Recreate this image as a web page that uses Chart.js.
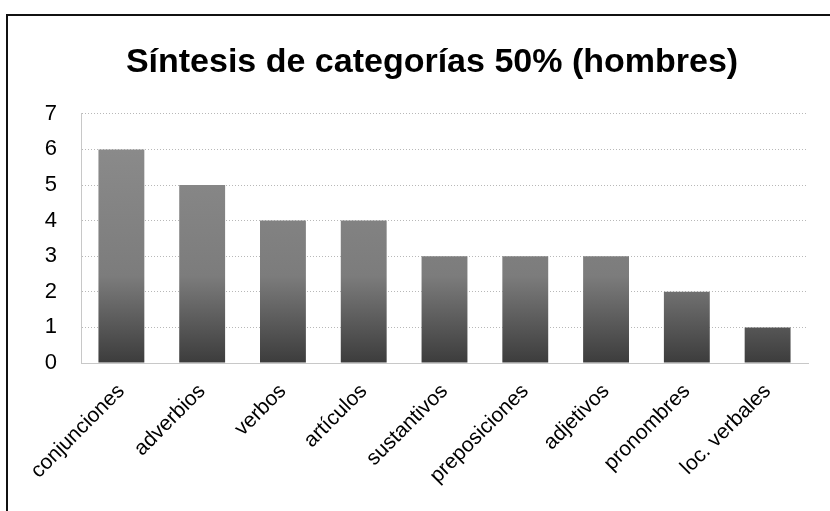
<!DOCTYPE html>
<html>
<head>
<meta charset="utf-8">
<script src="https://cdn.jsdelivr.net/npm/chart.js@4"></script>
<style>
  html, body { margin: 0; padding: 0; background: #fff; overflow: hidden; }
  #frame {
    position: absolute; left: 6px; top: 14px;
    width: 830px; height: 505px;
    border-left: 2px solid #111; border-top: 2px solid #111;
  }
  #wrap { position: absolute; left: 0; top: 0; width: 822px; height: 495px; }
</style>
</head>
<body>
<div id="frame"><div id="wrap"><canvas id="chart"></canvas></div></div>
<script>
// data
const categories = ['conjunciones', 'adverbios', 'verbos', 'artículos', 'sustantivos',
                    'preposiciones', 'adjetivos', 'pronombres', 'loc. verbales'];
const counts = [6, 5, 4, 4, 3, 3, 3, 2, 1];
const yTicks = [0, 1, 2, 3, 4, 5, 6, 7];

const fontFam = "'Liberation Sans', Arial, sans-serif";

// gray bars, darker towards the bottom
function barFill(context) {
    const chart = context.chart;
    const area = chart.chartArea;
    if (!area) return '#888';
    const g = chart.ctx.createLinearGradient(0, area.top, 0, area.bottom);
    g.addColorStop(0, '#8e8e8e');
    g.addColorStop(0.65, '#7c7c7c');
    g.addColorStop(1, '#3c3c3c');
    return g;
}

const ctx = document.getElementById('chart').getContext('2d');
new Chart(ctx, {
    type: 'bar',
    data: {
        labels: categories,
        datasets: [{
            label: 'hombres',
            data: counts,
            backgroundColor: barFill,
            borderWidth: 0,
            categoryPercentage: 0.8,
            barPercentage: 0.71
        }]
    },
    options: {
        responsive: true,
        maintainAspectRatio: false,
        animation: false,
        layout: { padding: { left: 0, right: 22, top: 0, bottom: 0 } },
        plugins: {
            legend: { display: false },
            tooltip: { enabled: false },
            title: {
                display: true,
                text: 'Síntesis de categorías 50% (hombres)',
                color: '#000',
                font: { family: fontFam, size: 34, weight: 'bold' },
                padding: { top: 26, bottom: 31 }
            }
        },
        scales: {
            y: {
                min: 0,
                max: 7,
                afterBuildTicks: axis => { axis.ticks = yTicks.map(v => ({ value: v })); },
                afterFit: axis => { axis.width = 73; },
                ticks: {
                    color: '#000',
                    font: { family: fontFam, size: 22 },
                    padding: 24
                },
                grid: {
                    color: '#b8b8b8',
                    lineWidth: 1,
                    drawTicks: false
                },
                border: { display: true, color: '#c8c8c8', dash: [1, 2] }
            },
            x: {
                afterFit: axis => { axis.height = 148; },
                ticks: {
                    color: '#000',
                    font: { family: fontFam, size: 21 },
                    minRotation: 45,
                    maxRotation: 45,
                    padding: 16
                },
                grid: { display: false, drawTicks: false },
                border: { display: true, color: '#c8c8c8', dash: [1, 2] }
            }
        }
    },
    plugins: [{
        // title sits a bit right of the canvas centre in the original
        id: 'titleShift',
        afterLayout(chart) {
            if (chart.titleBlock) chart.titleBlock.left += 48;
        }
    }]
});
</script>
</body>
</html>
